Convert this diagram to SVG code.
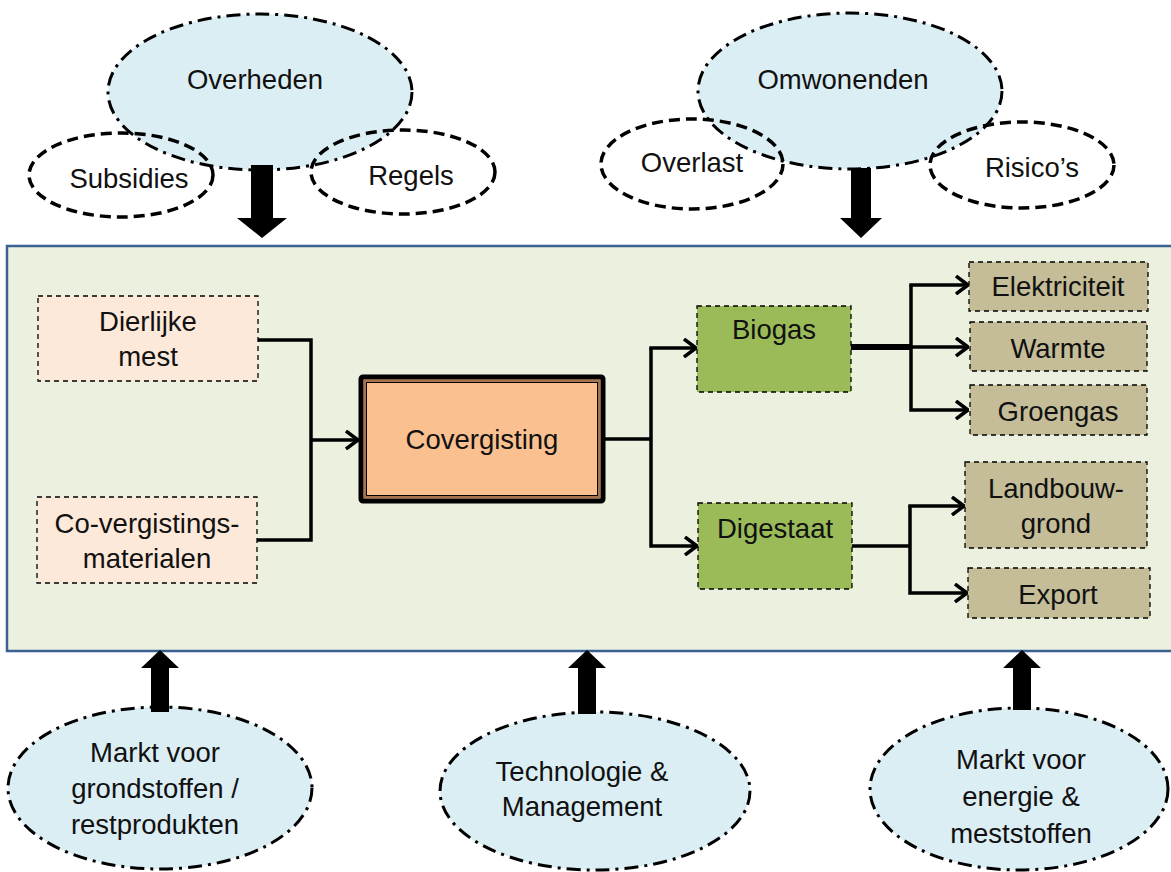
<svg xmlns="http://www.w3.org/2000/svg" width="1171" height="872" viewBox="0 0 1171 872">
<style>
text{font-family:"Liberation Sans",Arial,sans-serif;font-size:27.5px;fill:#111;text-anchor:middle}
.big{fill:#dbeef4;stroke:#000;stroke-width:3;stroke-dasharray:14 6 3 6}
.sub{fill:none;stroke:#000;stroke-width:3.5;stroke-dasharray:11 6}
.in{fill:#fde9d9;stroke:#000;stroke-width:1.3;stroke-dasharray:5 4}
.gr{fill:#9bbb59;stroke:#000;stroke-width:1.3;stroke-dasharray:5 4}
.out{fill:#c4bd97;stroke:#000;stroke-width:1.3;stroke-dasharray:5 4}
.ln{fill:none;stroke:#000;stroke-width:3.5;stroke-linejoin:miter}
.blk{fill:#000}
</style>
<defs>
<marker id="ah" viewBox="0 0 14 20" refX="13" refY="10" markerWidth="14" markerHeight="20" markerUnits="userSpaceOnUse" orient="auto">
<path d="M1,1 L13,10 L1,19" fill="none" stroke="#000" stroke-width="3.5"/>
</marker>
</defs>
<rect width="1171" height="872" fill="#fff"/>
<g id="panel"><rect x="7" y="246" width="1170" height="405" fill="#ebf1de" stroke="#3b6192" stroke-width="2.5"/></g>

<g id="overheden">
<ellipse class="big" cx="260" cy="92" rx="152" ry="78"/>
<text x="255" y="89">Overheden</text>
</g>
<g id="subsidies"><ellipse class="sub" cx="121" cy="175" rx="92" ry="42"/><text x="129" y="188">Subsidies</text></g>
<g id="regels"><ellipse class="sub" cx="403" cy="172" rx="92" ry="42"/><text x="411" y="185">Regels</text></g>

<g id="omwonenden">
<ellipse class="big" cx="850" cy="91" rx="152" ry="78"/>
<text x="843" y="89">Omwonenden</text>
</g>
<g id="overlast"><ellipse class="sub" cx="692" cy="164" rx="91" ry="45"/><text x="692" y="172">Overlast</text></g>
<g id="risicos"><ellipse class="sub" cx="1022" cy="165" rx="92" ry="43"/><text x="1032" y="177">Risico’s</text></g>

<g id="markt-grondstoffen">
<ellipse class="big" cx="160" cy="788" rx="152" ry="81"/>
<text x="155" y="762">Markt voor</text>
<text x="155" y="798">grondstoffen /</text>
<text x="155" y="834">restprodukten</text>
</g>
<g id="technologie">
<ellipse class="big" cx="595" cy="791" rx="155" ry="79"/>
<text x="582" y="781">Technologie &amp;</text>
<text x="582" y="816">Management</text>
</g>
<g id="markt-energie">
<ellipse class="big" cx="1019" cy="789" rx="149" ry="81"/>
<text x="1021" y="769">Markt voor</text>
<text x="1021" y="806">energie &amp;</text>
<text x="1021" y="843">meststoffen</text>
</g>

<g id="dierlijke-mest"><rect class="in" x="38" y="296" width="220" height="85"/><text x="148" y="331">Dierlijke</text><text x="148" y="366">mest</text></g>
<g id="co-vergistings"><rect class="in" x="37" y="497" width="220" height="86"/><text x="147" y="533">Co-vergistings-</text><text x="147" y="568">materialen</text></g>
<g id="covergisting">
<rect x="361" y="377" width="242" height="124" rx="2" fill="#fac090" stroke="#000" stroke-width="5"/>
<rect x="365" y="381" width="234" height="116" fill="none" stroke="#a8734a" stroke-width="2"/>
<rect x="366.5" y="382.5" width="231" height="113" fill="none" stroke="#000" stroke-width="1"/>
<text x="482" y="449">Covergisting</text>
</g>
<g id="biogas"><rect class="gr" x="697" y="306" width="154" height="86"/><text x="774" y="339">Biogas</text></g>
<g id="digestaat"><rect class="gr" x="698" y="503" width="154" height="86"/><text x="775" y="538">Digestaat</text></g>
<g id="elektriciteit"><rect class="out" x="969" y="262" width="179" height="49"/><text x="1058" y="296">Elektriciteit</text></g>
<g id="warmte"><rect class="out" x="970" y="322" width="177" height="49"/><text x="1058" y="358">Warmte</text></g>
<g id="groengas"><rect class="out" x="970" y="385" width="177" height="50"/><text x="1058" y="421">Groengas</text></g>
<g id="landbouwgrond"><rect class="out" x="965" y="462" width="182" height="86"/><text x="1056" y="498">Landbouw-</text><text x="1056" y="533">grond</text></g>
<g id="export"><rect class="out" x="968" y="568" width="182" height="50"/><text x="1058" y="604">Export</text></g>

<g id="connectors">
<polyline class="ln" points="258,340 311,340 311,540 257,540"/>
<line class="ln" x1="311" y1="440" x2="358" y2="440" marker-end="url(#ah)"/>
<polyline class="ln" points="605,439 651,439"/>
<polyline class="ln" points="651,348 651,546 697,546" marker-end="url(#ah)"/>
<line class="ln" x1="649.3" y1="348" x2="696" y2="348" marker-end="url(#ah)"/>
<line x1="851" y1="347" x2="911" y2="347" stroke="#000" stroke-width="6"/>
<polyline class="ln" points="911,285 911,410 968,410" marker-end="url(#ah)"/>
<line class="ln" x1="909.3" y1="285" x2="968" y2="285" marker-end="url(#ah)"/>
<line class="ln" x1="911" y1="347" x2="968" y2="347" marker-end="url(#ah)"/>
<polyline class="ln" points="852,546 910,546"/>
<polyline class="ln" points="910,506 910,593 967,593" marker-end="url(#ah)"/>
<line class="ln" x1="908.3" y1="506" x2="964" y2="506" marker-end="url(#ah)"/>
<polygon class="blk" points="251,165 273,165 273,218 287,218 262,238 237,218 251,218"/>
<polygon class="blk" points="851,168 871,168 871,218 882,218 861,238 840,218 851,218"/>
<polygon class="blk" points="151,712 169,712 169,668 179,668 160,650 141,668 151,668"/>
<polygon class="blk" points="578,714 596,714 596,668 606,668 587,650 568,668 578,668"/>
<polygon class="blk" points="1013,710 1031,710 1031,668 1041,668 1022,650 1003,668 1013,668"/>
</g>
</svg>
